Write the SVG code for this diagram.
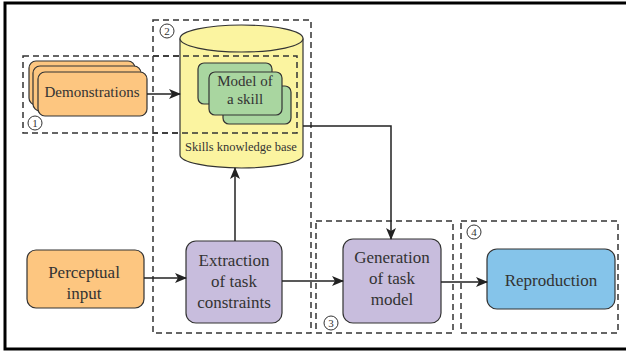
<svg xmlns="http://www.w3.org/2000/svg" width="626" height="352" viewBox="0 0 626 352" font-family="'Liberation Serif', 'Times New Roman', 'DejaVu Serif', serif">
<defs>
<style>
.frame{fill:none;stroke:#000;stroke-width:3}
.dash{fill:none;stroke:#333;stroke-width:1.5;stroke-dasharray:6 4}
.conn{fill:none;stroke:#222;stroke-width:1.5}
.box{stroke:#333;stroke-width:1.2}
.orange{fill:#FDC680}
.green{fill:#A9D6A0}
.purple{fill:#C8BDDD}
.blue{fill:#85C4EA}
.yellow{fill:#FBF4A0}
text{fill:#333;text-anchor:middle}
.t17{font-size:17px}
.t15{font-size:15px}
.t12{font-size:12.5px}
.num{font-size:11px}
.circ{fill:#fff;stroke:#333;stroke-width:1}
</style>
<marker id="arr" viewBox="0 0 12 10" refX="11" refY="5" markerWidth="12" markerHeight="10" markerUnits="userSpaceOnUse" orient="auto">
<path d="M0,0 L12,5 L0,10 L3,5 Z" fill="#222"/>
</marker>
</defs>
<rect x="5" y="3" width="640" height="346" class="frame"/>

<g id="region1">
<rect x="23" y="56" width="274" height="77" class="dash"/>
<circle cx="35" cy="123" r="7" class="circ"/><text x="35" y="127" class="num">1</text>
</g>
<g id="region2">
<rect x="153" y="20" width="158" height="313" class="dash"/>
</g>
<g id="region3">
<rect x="316" y="221" width="137" height="112" class="dash"/>
<circle cx="331" cy="323" r="7" class="circ"/><text x="331" y="327" class="num">3</text>
</g>
<g id="region4">
<rect x="461" y="221" width="157" height="112" class="dash"/>
<circle cx="474" cy="232" r="7" class="circ"/><text x="474" y="236" class="num">4</text>
</g>

<g id="skills-kb">
<path d="M180,38.5 L180,155 A61.5,13 0 0 0 303,155 L303,38.5" class="box yellow"/>
<ellipse cx="241.5" cy="38.5" rx="61.5" ry="13.5" class="box yellow"/>
<text x="241" y="151" class="t12">Skills knowledge base</text>
</g>
<g id="region1-overlay">
<path d="M153,56 L297,56 L297,133 L153,133" class="dash"/>
</g>
<g id="region2-label">
<circle cx="167" cy="31" r="7" class="circ"/><text x="167" y="35" class="num">2</text>
</g>

<g id="model-skill">
<rect x="198" y="63" width="74" height="41" rx="6" class="box green"/>
<rect x="223" y="86" width="68" height="38" rx="6" class="box green"/>
<rect x="209" y="72" width="73" height="43" rx="6" class="box green"/>
<text x="245" y="86" class="t15">Model of</text>
<text x="245" y="104" class="t15">a skill</text>
</g>

<g id="demonstrations">
<rect x="29" y="61" width="106" height="44" rx="7" class="box orange"/>
<rect x="33" y="66" width="108" height="45" rx="7" class="box orange"/>
<rect x="38" y="72" width="109" height="44" rx="7" class="box orange"/>
<text x="92" y="97" class="t15">Demonstrations</text>
</g>

<g id="perceptual-input">
<rect x="27" y="250" width="117" height="58" rx="9" class="box orange"/>
<text x="84" y="278" class="t17">Perceptual</text>
<text x="84" y="299" class="t17">input</text>
</g>

<g id="extraction">
<rect x="186" y="241" width="96" height="82" rx="10" class="box purple"/>
<text x="234" y="266" class="t17">Extraction</text>
<text x="234" y="287" class="t17">of task</text>
<text x="234" y="308" class="t17">constraints</text>
</g>

<g id="generation">
<rect x="343" y="239" width="98" height="84" rx="10" class="box purple"/>
<text x="392" y="263" class="t17">Generation</text>
<text x="392" y="284" class="t17">of task</text>
<text x="392" y="305" class="t17">model</text>
</g>

<g id="reproduction">
<rect x="487" y="249" width="128" height="60" rx="10" class="box blue"/>
<text x="551" y="286" class="t17">Reproduction</text>
</g>

<g id="connectors">
<line x1="147" y1="94" x2="180" y2="94" class="conn" marker-end="url(#arr)"/>
<path d="M303,126 L391,126 L391,239" class="conn" marker-end="url(#arr)"/>
<line x1="144" y1="278" x2="186" y2="278" class="conn" marker-end="url(#arr)"/>
<line x1="235" y1="241" x2="235" y2="168" class="conn" marker-end="url(#arr)"/>
<line x1="282" y1="281" x2="343" y2="281" class="conn" marker-end="url(#arr)"/>
<line x1="441" y1="282" x2="487" y2="282" class="conn" marker-end="url(#arr)"/>
</g>
</svg>
